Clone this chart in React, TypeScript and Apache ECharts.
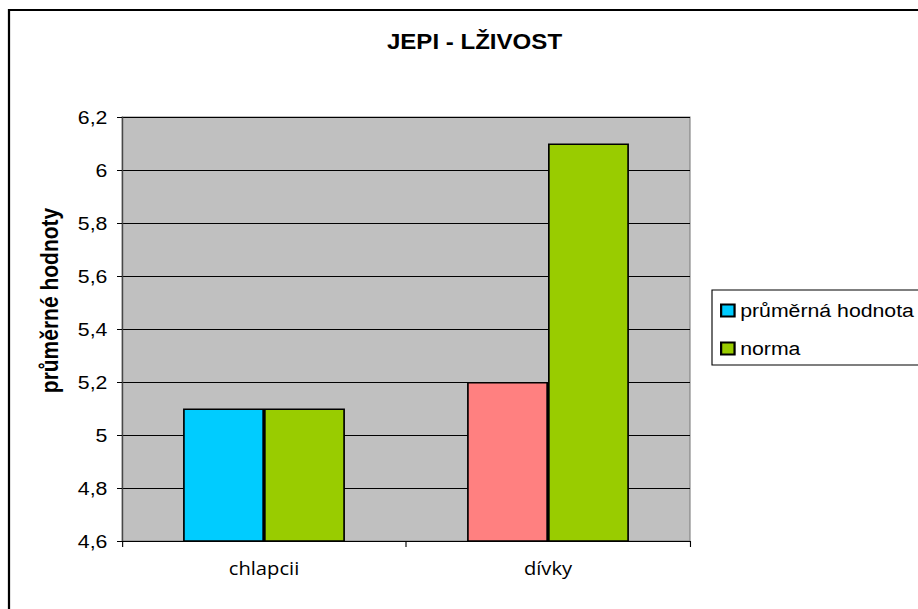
import React, { useEffect, useRef } from "react";
import * as echarts from "echarts";

const categories = ["chlapcii", "dívky"];
const prumernaHodnota = [5.1, 5.2];
const norma = [5.1, 6.1];
const seriesNames = ["průměrná hodnota", "norma"];
const titleText = "JEPI - LŽIVOST";
const yAxisName = "průměrné hodnoty";
const yMin = 4.6;
const yMax = 6.2;
const yStep = 0.2;

const SX = 1.12;
const W = 918 / SX;
const H = 609;
const X = (px: number) => px / SX;

export default function App() {
  const ref = useRef<HTMLDivElement>(null);
  useEffect(() => {
    if (!ref.current) return;
    const chart = echarts.init(ref.current, null, { renderer: "svg" });
    const arial = "'Liberation Sans', Arial, sans-serif";
    const firstColors = ["#00CCFF", "#FF8080"];
    chart.setOption({
      animation: false,
      backgroundColor: "#ffffff",
      title: {
        text: titleText,
        left: X(474.5),
        top: 30,
        padding: 0,
        textAlign: "center",
        textStyle: { fontFamily: arial, fontSize: 21.5, fontWeight: "bold", color: "#000" },
      },
      graphic: [
        {
          type: "rect",
          shape: { x: X(9), y: 10, width: 1000, height: 1000 },
          style: { fill: "none", stroke: "#000", lineWidth: 2 },
          silent: true,
        },
        {
          type: "text",
          x: X(50),
          y: 300.5,
          rotation: Math.PI / 2,
          silent: true,
          style: {
            text: yAxisName,
            fontFamily: arial,
            fontSize: 21,
            fontWeight: "bold",
            fill: "#000",
            align: "center",
            verticalAlign: "middle",
          },
        },
      ],
      legend: {
        orient: "vertical",
        left: X(712),
        top: 290,
        padding: [11, 30, 7, X(8)],
        itemGap: 19,
        itemWidth: 12,
        itemHeight: 12,
        icon: "rect",
        borderColor: "#000",
        borderWidth: 1,
        textStyle: { fontFamily: arial, fontSize: 19, color: "#000" },
        data: seriesNames,
      },
      grid: {
        left: X(122),
        top: 117,
        width: X(690) - X(122),
        height: 424,
        show: true,
        backgroundColor: "#C0C0C0",
        borderColor: "#808080",
        borderWidth: 1,
      },
      xAxis: {
        type: "category",
        data: categories,
        boundaryGap: true,
        axisLine: { show: true, lineStyle: { color: "#000", width: 1 } },
        axisTick: { show: true, length: 6, lineStyle: { color: "#000" } },
        axisLabel: {
          fontFamily: "'Open Sans', sans-serif",
          fontSize: 18,
          color: "#000",
          margin: 18,
        },
      },
      yAxis: {
        type: "value",
        min: yMin,
        max: yMax,
        interval: yStep,
        axisLine: { show: true, lineStyle: { color: "#404040", width: 1 } },
        axisTick: { show: true, length: X(5), lineStyle: { color: "#000" } },
        splitLine: { show: true, lineStyle: { color: "#000", width: 1 } },
        axisLabel: {
          fontFamily: arial,
          fontSize: 19,
          color: "#000",
          margin: 13,
          formatter: (v: number) => String(Math.round(v * 10) / 10).replace(".", ","),
        },
      },
      series: [
        {
          name: seriesNames[0],
          type: "bar",
          barGap: "0%",
          barCategoryGap: "43%",
          itemStyle: { color: firstColors[0], borderColor: "#000", borderWidth: 1.5 },
          data: prumernaHodnota.map((v, i) => ({ value: v, itemStyle: { color: firstColors[i] } })),
        },
        {
          name: seriesNames[1],
          type: "bar",
          barGap: "0%",
          barCategoryGap: "43%",
          itemStyle: { color: "#99CC00", borderColor: "#000", borderWidth: 1.5 },
          data: norma,
        },
      ],
    });
    return () => chart.dispose();
  }, []);
  return (
    <div
      ref={ref}
      style={{
        position: "fixed",
        left: 0,
        top: 0,
        width: W,
        height: H,
        transform: `scaleX(${SX})`,
        transformOrigin: "0 0",
      }}
    />
  );
}
